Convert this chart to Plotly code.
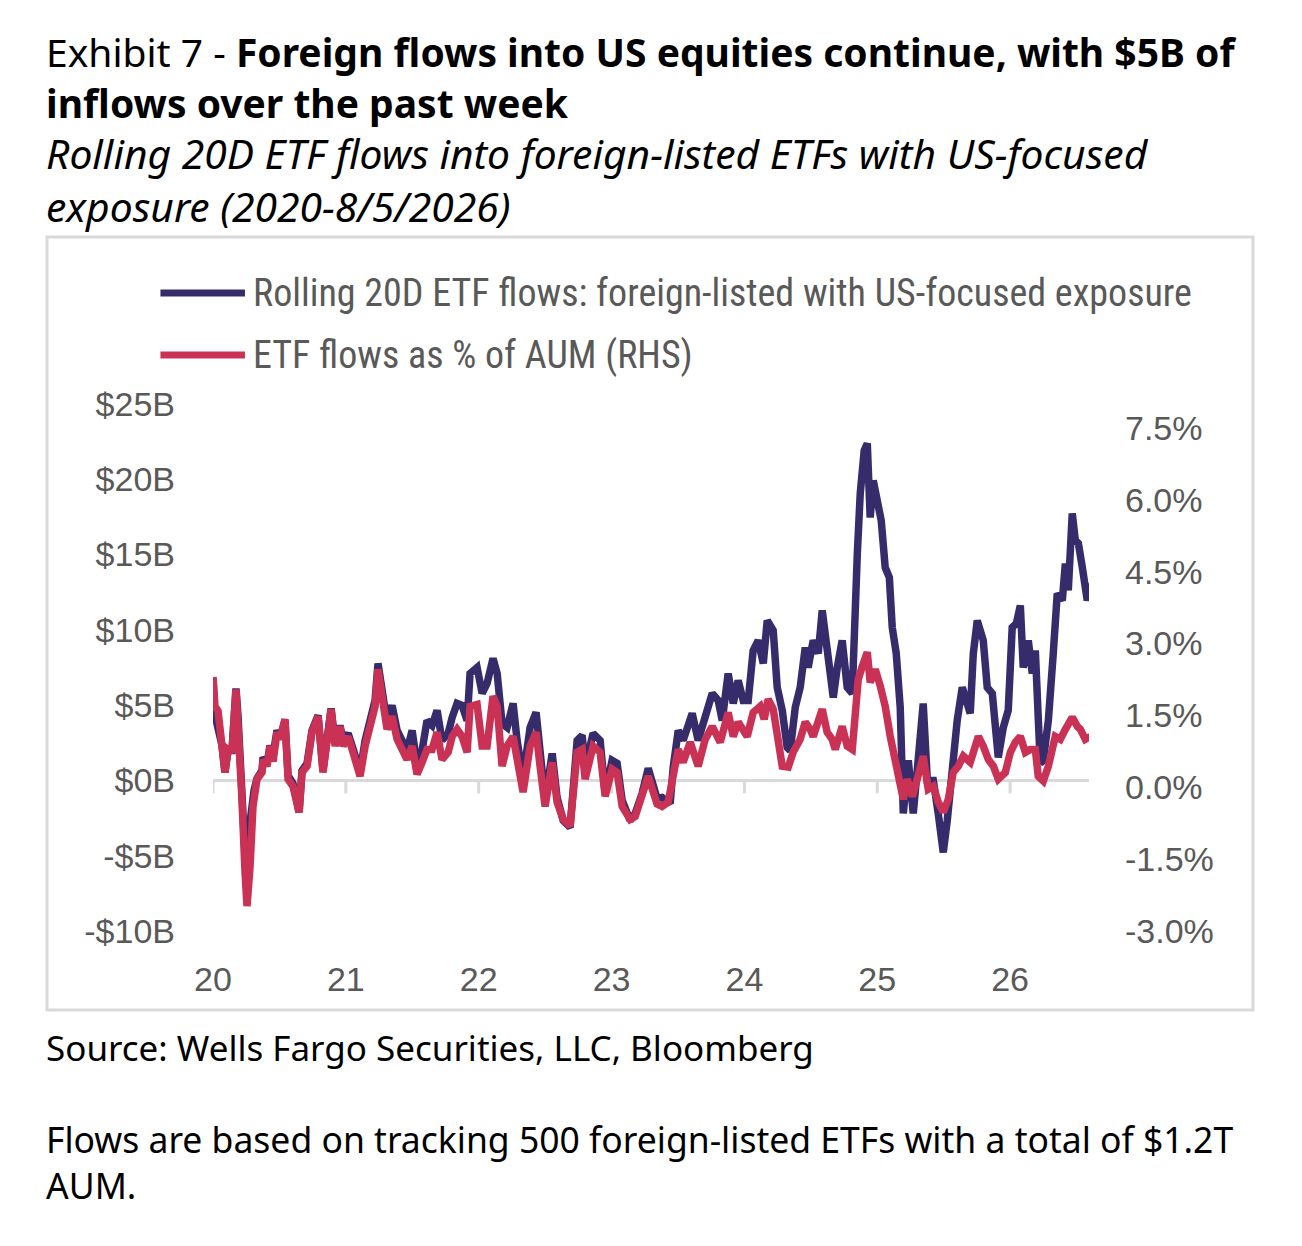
import plotly.graph_objects as go

# values (fractional year, $bn / % of AUM)
flow_years = [
    2020.000, 2020.015, 2020.038, 2020.068, 2020.090, 2020.113, 2020.143, 2020.173, 2020.188, 2020.218,
    2020.241, 2020.256, 2020.271, 2020.286, 2020.309, 2020.331, 2020.369, 2020.377, 2020.407, 2020.429,
    2020.452, 2020.482, 2020.505, 2020.542, 2020.565, 2020.602, 2020.648, 2020.670, 2020.708, 2020.745,
    2020.791, 2020.828, 2020.858, 2020.889, 2020.919, 2020.956, 2020.979, 2021.017, 2021.054, 2021.107,
    2021.145, 2021.182, 2021.220, 2021.242, 2021.273, 2021.310, 2021.348, 2021.386, 2021.423, 2021.461,
    2021.499, 2021.536, 2021.574, 2021.611, 2021.649, 2021.687, 2021.724, 2021.770, 2021.800, 2021.837,
    2021.875, 2021.913, 2021.935, 2021.988, 2022.026, 2022.063, 2022.108, 2022.139, 2022.176, 2022.214,
    2022.259, 2022.289, 2022.334, 2022.387, 2022.432, 2022.462, 2022.500, 2022.553, 2022.590, 2022.636,
    2022.688, 2022.741, 2022.779, 2022.801, 2022.861, 2022.914, 2022.952, 2023.004, 2023.042, 2023.080,
    2023.140, 2023.178, 2023.230, 2023.276, 2023.343, 2023.381, 2023.441, 2023.464, 2023.502, 2023.539,
    2023.607, 2023.652, 2023.705, 2023.758, 2023.803, 2023.833, 2023.878, 2023.916, 2023.953, 2023.991,
    2024.029, 2024.066, 2024.104, 2024.142, 2024.172, 2024.217, 2024.247, 2024.285, 2024.322, 2024.345,
    2024.383, 2024.420, 2024.458, 2024.480, 2024.518, 2024.556, 2024.586, 2024.608, 2024.631, 2024.669,
    2024.699, 2024.736, 2024.774, 2024.812, 2024.850, 2024.872, 2024.902, 2024.925, 2024.947, 2024.970,
    2025.000, 2025.030, 2025.060, 2025.091, 2025.113, 2025.143, 2025.173, 2025.196, 2025.234, 2025.271,
    2025.301, 2025.346, 2025.377, 2025.422, 2025.459, 2025.497, 2025.527, 2025.565, 2025.602, 2025.640,
    2025.700, 2025.723, 2025.753, 2025.798, 2025.828, 2025.866, 2025.911, 2025.949, 2025.986, 2026.016,
    2026.047, 2026.077, 2026.099, 2026.137, 2026.167, 2026.190, 2026.227, 2026.250, 2026.288, 2026.325,
    2026.355, 2026.393, 2026.416, 2026.438, 2026.468, 2026.491, 2026.514, 2026.544, 2026.566, 2026.581,
    2026.604,
]
flows_bn = [
    6.77, 4.32, 3.45, 2.32, 0.53, 1.99, 1.99, 6.11, 4.32, -0.66,
    -4.65, -7.50, -3.32, -1.66, -0.66, 0.13, 0.66, 1.53, 1.13, 2.32,
    1.66, 3.32, 2.86, 3.98, 0.33, -0.20, -2.12, 0.66, 1.13, 3.32,
    4.32, 0.66, 2.86, 4.78, 2.46, 3.65, 2.66, 3.12, 2.12, 0.53,
    2.66, 4.12, 5.31, 7.77, 5.98, 3.85, 4.98, 3.32, 2.66, 1.99,
    3.32, 1.00, 1.99, 3.98, 3.65, 4.65, 2.66, 3.12, 4.18, 5.11,
    4.98, 3.98, 7.10, 7.50, 5.78, 6.44, 8.10, 7.10, 3.78, 3.52,
    5.11, 2.66, 0.20, 3.52, 4.52, 1.99, -1.33, 1.79, -1.13, -2.66,
    -3.12, 2.66, 2.99, 0.86, 3.12, 2.66, -0.86, 1.33, 1.13, -1.33,
    -2.66, -2.19, -0.86, 0.80, -1.20, -1.13, -1.53, 0.86, 3.32, 2.66,
    4.45, 2.66, 4.45, 5.78, 5.31, 3.98, 7.10, 5.11, 6.64, 5.31,
    5.31, 8.63, 9.30, 7.77, 10.62, 9.96, 6.18, 4.65, 2.19, 1.99,
    4.85, 6.18, 8.83, 7.50, 9.30, 8.43, 11.29, 9.50, 7.97, 5.51,
    7.50, 9.30, 6.18, 5.78, 15.07, 19.06, 21.91, 22.38, 17.46, 19.92,
    18.59, 17.26, 14.14, 13.48, 10.16, 8.43, 4.85, -2.19, 1.33, -2.19,
    0.66, 5.11, 0.00, 0.00, -2.19, -4.78, -2.66, 1.33, 3.98, 6.18,
    4.45, 8.43, 10.62, 9.30, 6.18, 5.78, 1.53, 3.52, 4.65, 10.16,
    10.42, 11.62, 7.50, 9.30, 7.10, 8.63, 1.13, 1.33, 3.98, 8.43,
    12.42, 11.95, 14.41, 12.62, 17.73, 15.94, 15.74, 14.14, 12.82, 11.95,
    13.08,
]

pct_years = [
    2020.000, 2020.015, 2020.038, 2020.068, 2020.090, 2020.113, 2020.143, 2020.173, 2020.188, 2020.218,
    2020.241, 2020.256, 2020.279, 2020.301, 2020.331, 2020.369, 2020.377, 2020.407, 2020.429, 2020.452,
    2020.482, 2020.505, 2020.542, 2020.565, 2020.602, 2020.648, 2020.670, 2020.708, 2020.745, 2020.791,
    2020.828, 2020.858, 2020.889, 2020.919, 2020.956, 2020.979, 2021.017, 2021.054, 2021.107, 2021.145,
    2021.182, 2021.220, 2021.242, 2021.273, 2021.310, 2021.348, 2021.386, 2021.423, 2021.461, 2021.499,
    2021.536, 2021.574, 2021.611, 2021.649, 2021.687, 2021.724, 2021.770, 2021.800, 2021.837, 2021.875,
    2021.913, 2021.935, 2021.988, 2022.026, 2022.063, 2022.108, 2022.139, 2022.176, 2022.214, 2022.259,
    2022.289, 2022.334, 2022.387, 2022.432, 2022.462, 2022.500, 2022.553, 2022.590, 2022.636, 2022.688,
    2022.741, 2022.779, 2022.801, 2022.861, 2022.914, 2022.952, 2023.004, 2023.042, 2023.080, 2023.140,
    2023.178, 2023.230, 2023.276, 2023.343, 2023.381, 2023.426, 2023.464, 2023.502, 2023.539, 2023.592,
    2023.652, 2023.705, 2023.758, 2023.818, 2023.878, 2023.916, 2023.953, 2024.021, 2024.066, 2024.119,
    2024.149, 2024.179, 2024.217, 2024.247, 2024.285, 2024.330, 2024.367, 2024.420, 2024.458, 2024.495,
    2024.518, 2024.586, 2024.623, 2024.661, 2024.684, 2024.736, 2024.774, 2024.812, 2024.857, 2024.887,
    2024.925, 2024.947, 2024.985, 2025.023, 2025.060, 2025.098, 2025.136, 2025.173, 2025.196, 2025.226,
    2025.264, 2025.301, 2025.346, 2025.384, 2025.422, 2025.459, 2025.497, 2025.535, 2025.572, 2025.610,
    2025.648, 2025.700, 2025.723, 2025.761, 2025.798, 2025.836, 2025.874, 2025.911, 2025.964, 2026.002,
    2026.039, 2026.077, 2026.115, 2026.152, 2026.190, 2026.212, 2026.250, 2026.288, 2026.340, 2026.378,
    2026.416, 2026.468, 2026.506, 2026.529, 2026.566, 2026.604,
]
pct_aum = [
    2.30, 1.69, 1.59, 1.00, 0.31, 0.79, 0.73, 2.04, 1.36, -0.25,
    -1.77, -2.48, -1.65, -0.40, 0.17, 0.31, 0.58, 0.44, 0.86, 0.54,
    1.15, 1.00, 1.42, 0.17, 0.02, -0.52, 0.31, 0.44, 1.15, 1.48,
    0.31, 1.00, 1.63, 0.86, 1.27, 0.86, 1.06, 0.73, 0.23, 0.86,
    1.36, 1.69, 2.46, 1.90, 1.21, 1.48, 1.00, 0.79, 0.58, 0.86,
    0.27, 0.52, 0.79, 0.79, 1.15, 0.58, 0.73, 1.06, 1.21, 1.06,
    0.73, 1.69, 1.73, 0.86, 0.86, 1.90, 1.69, 0.44, 0.86, 1.06,
    0.52, -0.10, 0.86, 1.15, 0.44, -0.40, 0.52, -0.31, -0.67, -0.81,
    0.73, 0.79, 0.17, 0.86, 0.73, -0.19, 0.38, 0.31, -0.40, -0.67,
    -0.61, -0.19, 0.23, -0.35, -0.40, -0.31, 0.17, 0.79, 0.52, 0.94,
    0.44, 1.00, 1.27, 0.94, 1.56, 1.06, 1.36, 1.06, 1.56, 1.69,
    1.42, 1.84, 1.63, 1.00, 0.44, 0.42, 0.73, 1.00, 1.36, 1.21,
    1.06, 1.63, 1.15, 1.00, 0.79, 1.27, 0.86, 0.79, 2.25, 2.52,
    2.82, 2.19, 2.46, 2.11, 1.69, 1.06, 0.58, 0.17, -0.25, 0.17,
    -0.19, 0.17, 0.65, -0.04, 0.02, -0.31, -0.52, -0.25, 0.31, 0.44,
    0.65, 0.52, 0.73, 1.06, 0.86, 0.58, 0.44, 0.17, 0.31, 0.73,
    0.94, 1.06, 0.73, 0.79, 0.79, 0.23, 0.13, 0.44, 1.06, 1.00,
    1.21, 1.46, 1.27, 1.21, 1.00, 1.06,
]

year_ticks = [2020, 2021, 2022, 2023, 2024, 2025, 2026]
year_labels = ["20", "21", "22", "23", "24", "25", "26"]
left_ticks = [-10, -5, 0, 5, 10, 15, 20, 25]
right_ticks = [-3.0, -1.5, 0.0, 1.5, 3.0, 4.5, 6.0, 7.5]

NAVY = "#372c6b"
RED = "#c93255"
GREY = "#595959"
RULE = "#d9d9d9"
TICK_FONT = dict(family="Liberation Sans, Arial, sans-serif", size=34, color=GREY)
BODY = "Noto Sans, Open Sans, sans-serif"
TEXT_X = -0.193

fig = go.Figure()
fig.add_trace(go.Scatter(x=flow_years, y=flows_bn, mode="lines", yaxis="y",
                         line=dict(color=NAVY, width=7.5), showlegend=False,
                         name="Rolling 20D ETF flows: foreign-listed with US-focused exposure"))
fig.add_trace(go.Scatter(x=pct_years, y=pct_aum, mode="lines", yaxis="y2",
                         line=dict(color=RED, width=7.5), showlegend=False,
                         name="ETF flows as % of AUM (RHS)"))

# the page body keeps an 8px margin, so the figure is 16px smaller than the window
fig.update_layout(
    width=1286, height=1230,
    margin=dict(l=205, r=205, t=396, b=307),
    paper_bgcolor="white", plot_bgcolor="white",
    xaxis=dict(range=[2020, 2026.594], tickvals=year_ticks, ticktext=year_labels,
               showgrid=False, zeroline=False, showline=False, ticks="",
               tickfont=TICK_FONT, ticklabelstandoff=25),
    yaxis=dict(range=[-10, 25], tickvals=left_ticks,
               ticktext=[("-$%dB" % -v) if v < 0 else ("$%dB" % v) for v in left_ticks],
               showgrid=False, zeroline=False, showline=False, ticks="",
               tickfont=TICK_FONT, ticklabelstandoff=37),
    yaxis2=dict(range=[-3.0, 8.0], overlaying="y", side="right", tickvals=right_ticks,
                ticktext=["%.1f%%" % v for v in right_ticks],
                showgrid=False, zeroline=False, showline=False, ticks="",
                tickfont=TICK_FONT, ticklabelstandoff=35),
)

# baseline at $0B with year tick marks
shapes = [dict(type="line", xref="x", yref="y", x0=2020, x1=2026.594, y0=0, y1=0,
               line=dict(color=RULE, width=3), layer="below")]
for t in year_ticks:
    shapes.append(dict(type="line", xref="x", yref="y", ysizemode="pixel", yanchor=0,
                       x0=t, x1=t, y0=0, y1=-13, line=dict(color=RULE, width=3), layer="below"))

# frame round the chart
shapes.append(dict(type="rect", xref="paper", yref="paper", x0=-0.1895, x1=1.1872,
                   y0=-0.1499, y1=1.3169, line=dict(color=RULE, width=3)))

# legend drawn by hand (long swatches)
legend_rows = [(1.2106, NAVY, "Rolling 20D ETF flows: foreign-listed with US-focused exposure"),
               (1.0930, RED, "ETF flows as % of AUM (RHS)")]
annotations = []
for ypos, col, label in legend_rows:
    shapes.append(dict(type="line", xref="paper", yref="paper", x0=-0.0600, x1=0.0365,
                       y0=ypos, y1=ypos, line=dict(color=col, width=7)))
    annotations.append(dict(xref="paper", yref="paper", x=0.0430, y=ypos, xanchor="left",
                            yanchor="middle", showarrow=False, text=label,
                            font=dict(family="Liberation Sans Narrow, Roboto Condensed, Roboto, sans-serif",
                                      size=38, color=GREY)))

annotations += [
    dict(xref="paper", yref="paper", x=TEXT_X, y=1.6214, xanchor="left", yanchor="middle",
         align="left", showarrow=False,
         text="Exhibit 7 - <b>Foreign flows into US equities continue, with $5B of<br>inflows over the past week</b>",
         font=dict(family=BODY, size=39, color="black")),
    dict(xref="paper", yref="paper", x=TEXT_X, y=1.4269, xanchor="left", yanchor="middle",
         align="left", showarrow=False,
         text="<i>Rolling 20D ETF flows into foreign-listed ETFs with US-focused<br>exposure (2020-8/5/2026)</i>",
         font=dict(family=BODY, size=40.8, color="black")),
    dict(xref="paper", yref="paper", x=TEXT_X, y=-0.222, xanchor="left", yanchor="middle",
         align="left", showarrow=False,
         text="Source: Wells Fargo Securities, LLC, Bloomberg",
         font=dict(family=BODY, size=35, color="black")),
    dict(xref="paper", yref="paper", x=TEXT_X, y=-0.4374, xanchor="left", yanchor="middle",
         align="left", showarrow=False,
         text="Flows are based on tracking 500 foreign-listed ETFs with a total of $1.2T<br>AUM.",
         font=dict(family=BODY, size=35.5, color="black")),
]

fig.update_layout(shapes=shapes, annotations=annotations)
fig.write_html("out.html")
